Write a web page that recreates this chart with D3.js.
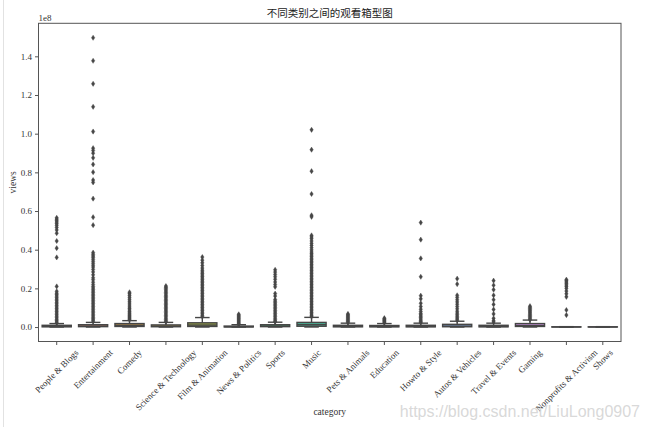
<!DOCTYPE html>
<html><head><meta charset="utf-8">
<script src="https://cdn.jsdelivr.net/npm/d3@7"></script>
<style>body{margin:0;background:#fff}svg{display:block}</style>
</head><body><svg id="c" width="650" height="427"></svg>
<script>
// values in millions of views (axis shown in units of 1e8)
const categories = ["People & Blogs","Entertainment","Comedy","Science & Technology","Film & Animation","News & Politics","Sports","Music","Pets & Animals","Education","Howto & Style","Autos & Vehicles","Travel & Events","Gaming","Nonprofits & Activism","Shows"];
const whiskerLow  = [0.01,0.01,0.02,0.01,0.02,0.01,0.01,0.02,0.01,0.01,0.01,0.01,0.01,0.02,0.01,0.01];
const q1          = [0.1,0.2,0.3,0.15,0.3,0.05,0.2,0.4,0.1,0.1,0.1,0.15,0.1,0.3,0.02,0.02];
const medians     = [0.35,0.5,0.9,0.45,1.0,0.15,0.5,1.2,0.35,0.3,0.3,0.5,0.3,0.8,0.05,0.05];
const q3          = [0.9,1.2,1.8,1.1,2.2,0.5,1.2,2.4,0.9,0.8,0.9,1.4,0.9,1.8,0.1,0.1];
const whiskerHigh = [1.8,2.4,3.3,2.4,4.9,1.2,2.5,5.0,2.0,1.8,2.0,3.0,2.0,3.6,0.2,0.2];
const outliers = [
  [56.5,55.8,55,54.3,53.5,52.6,51.5,50.2,48.5,44.5,40.8,36,21,18.5,17.5,16.8,16,15.2,14.4,13.6,12.8,12,11.2,10.4,9.6,8.8,8,7.2,6.4,5.6,4.8,4,3.3,2.6,2.1],
  [149.6,137.7,125.8,113.9,101.1,92.5,91.3,89.9,87.5,84.1,80.1,76,74.8,66.4,56.8,52.7,38.5,37.6,36.8,36,35,34,33,32,31,29.8,28.5,27,25.5,24.5,23.2,22,21,20.2,19.4,18.6,17.8,17,16.2,15.4,14.6,13.8,13,12.2,11.4,10.6,9.8,9,8.2,7.4,6.6,5.8,5,4.3,3.6,3],
  [18,17.3,16.4,15.4,14.4,13.4,12.4,11.4,10.4,9.6,8.8,8,7.3,6.7,6.1,5.5,4.9,4.3,3.8],
  [21.2,20.6,20,19.3,18.6,17.9,17.2,16.5,15.8,15.1,14.4,13.7,13,12.3,11.6,10.9,10.2,9.5,8.8,8.1,7.4,6.7,6,5.3,4.6,3.9,3.2,2.7],
  [36.2,34.6,33.2,31.8,30.5,29.4,28.5,27.7,26.9,26.1,25.3,24.5,23.7,22.9,22.1,21.3,20.5,19.7,18.9,18.1,17.3,16.5,15.7,14.9,14.1,13.3,12.5,11.7,10.9,10.1,9.3,8.5,7.7,6.9,6.1,5.4],
  [6.6,6.1,5.6,5.1,4.6,4.1,3.6,3.1,2.6,2.1,1.6,1.3],
  [29.6,28.4,27.2,26,24.7,23.3,22,20.8,17.3,16,14.2,13.4,12.6,11.8,11,10.2,9.4,8.6,7.8,7,6.2,5.4,4.6,3.8,3.1,2.7],
  [102,91.7,80.6,68.8,57.8,57,47.4,46.6,45.7,44.5,43.3,42.2,41,39.9,38.8,38,37.2,36.4,35.6,34.8,34,33.2,32.4,31.6,30.8,30,29.2,28.4,27.6,26.8,26,25.2,24.4,23.6,22.8,22,21.2,20.4,19.6,18.8,18,17.2,16.4,15.6,14.8,14,13.2,12.4,11.6,10.8,10,9.2,8.4,7.6,6.8,6,5.4],
  [6.8,6.3,5.8,5.3,4.8,4.3,3.8,3.3,2.8,2.4],
  [4.6,4.2,3.8,3.4,3,2.6,2.2],
  [54,45.2,35.5,26,16.2,14.6,12.3,10.6,9.2,8,7,6.3,5.6,4.9,4.2,3.5,2.9,2.4],
  [25,22.2,16.4,15.3,14.1,13,11.8,10.6,9.4,8.2,7.2,6.4,5.6,4.8,4.1,3.5],
  [24,21.6,19.3,16.4,14.1,11.7,9.1,6.8,4.5,3.2,2.6],
  [10.8,10.2,9.6,9,8.4,7.8,7.2,6.6,6,5.4,4.8,4.2,3.8],
  [24.5,24,23.3,22.6,21.8,21,20,18.6,17.2,15.6,8.8,6.2],
  []
];
const yTickValues = [0,20,40,60,80,100,120,140];
const yTickLabels = ["0.0","0.2","0.4","0.6","0.8","1.0","1.2","1.4"];
const titleText = "不同类别之间的观看箱型图";
const xLabel = "category", yLabel = "views", offsetLabel = "1e8";
const watermark = "https://blog.csdn.net/LiuLong0907";

(function(){
// ---- seaborn husl palette (l=.7, s=.9, h=.01) desaturated .75 ----
const M = [[3.2406,-1.5372,-0.4986],[-0.9689,1.8758,0.0415],[0.0557,-0.2040,1.0570]];
function maxChroma(L,H){const hr=H*Math.PI/180,sH=Math.sin(hr),cH=Math.cos(hr);
  const sub1=Math.pow(L+16,3)/1560896, sub2=sub1>0.008856?sub1:L/903.3; let res=Infinity;
  for(const [m1,m2,m3] of M){const tp=(0.99915*m1+1.05122*m2+1.14460*m3)*sub2;
    const rb=0.86330*m3-0.17266*m2, lb=0.12949*m3-0.38848*m1, bot=(rb*sH+lb*cH)*sub2;
    for(const t of [0,1]){const C=L*(tp-1.05122*t)/(bot+0.17266*sH*t); if(C>0&&C<res)res=C;}}
  return res;}
function fInv(t){return Math.pow(t,3)>0.008856?Math.pow(t,3):(116*t-16)/903.3;}
function fromLin(c){return c<=0.0031308?12.92*c:1.055*Math.pow(c,1/2.4)-0.055;}
function husl(h,s,l){const C=maxChroma(l,h)/100*s, hr=h*Math.PI/180;
  const U=Math.cos(hr)*C,V=Math.sin(hr)*C;
  const vY=fInv((l+16)/116), vU=U/(13*l)+0.19784, vV=V/(13*l)+0.46834;
  const Y=vY, X=-(9*Y*vU)/((vU-4)*vV-vU*vV), Z=(9*Y-15*vV*Y-vV*X)/(3*vV);
  return M.map(r=>Math.max(0,Math.min(1,fromLin(r[0]*X+r[1]*Y+r[2]*Z))));}
const n=categories.length;
const colors=categories.map((c,i)=>{const h=((i/n+0.01)%1)*359; const rgb=husl(h,0.9*99,0.7*99);
  const col=d3.hsl(d3.rgb(rgb[0]*255,rgb[1]*255,rgb[2]*255)); col.s*=0.75; return col.formatHex();});
const lum=d3.min(colors,c=>d3.hsl(c).l)*0.6;
const gray=d3.rgb(lum*255,lum*255,lum*255).formatHex();

// ---- layout ----
const svg=d3.select("#c");
const pl=38.5,pr=621,pt=23.3,pb=341.5;
const x=d3.scaleBand().domain(categories).range([pl,pr]).padding(0);
const y=d3.scaleLinear().domain([-7.48,157.08]).range([pb,pt]);
const bw=x.bandwidth()*0.8;

svg.append("rect").attr("x",3).attr("y",0).attr("width",1).attr("height",427).attr("fill","#e2e2e2");

const g=svg.append("g");
categories.forEach((c,i)=>{
  const cx=x(c)+x.bandwidth()/2;
  const gg=g.append("g");
  gg.append("line").attr("x1",cx).attr("x2",cx).attr("y1",y(q3[i])).attr("y2",y(whiskerHigh[i])).attr("stroke",gray).attr("stroke-width",1.4);
  gg.append("line").attr("x1",cx).attr("x2",cx).attr("y1",y(q1[i])).attr("y2",y(whiskerLow[i])).attr("stroke",gray).attr("stroke-width",1.4);
  [whiskerHigh[i],whiskerLow[i]].forEach(v=>gg.append("line").attr("x1",cx-bw/4).attr("x2",cx+bw/4).attr("y1",y(v)).attr("y2",y(v)).attr("stroke",gray).attr("stroke-width",1.4));
  gg.append("rect").attr("x",cx-bw/2).attr("width",bw).attr("y",y(q3[i])).attr("height",Math.max(0.1,y(q1[i])-y(q3[i])))
    .attr("fill",colors[i]).attr("stroke",gray).attr("stroke-width",1.4);
  gg.append("line").attr("x1",cx-bw/2).attr("x2",cx+bw/2).attr("y1",y(medians[i])).attr("y2",y(medians[i])).attr("stroke",gray).attr("stroke-width",1.4);
  gg.selectAll("path.f").data(outliers[i]).join("path").attr("class","f")
    .attr("d","M0,-2.6L1.7,0L0,2.6L-1.7,0Z").attr("transform",d=>`translate(${cx},${y(d)})`)
    .attr("fill",gray).attr("stroke",gray).attr("stroke-width",0.4);
});

svg.append("rect").attr("x",pl).attr("y",pt).attr("width",pr-pl).attr("height",pb-pt)
  .attr("fill","none").attr("stroke","#555").attr("stroke-width",1);

const tickFont="'Liberation Serif', 'DejaVu Serif', serif";
const ya=svg.append("g").attr("transform",`translate(${pl},0)`)
  .call(d3.axisLeft(y).tickValues(yTickValues).tickFormat((d,i)=>yTickLabels[i]).tickSize(3.5).tickPadding(3));
ya.select(".domain").remove();
ya.selectAll("line").attr("stroke","#555");
ya.selectAll("text").attr("font-family",tickFont).attr("font-size",9).attr("fill","#333");

const xa=svg.append("g").attr("transform",`translate(0,${pb})`)
  .call(d3.axisBottom(x).tickSize(3.5).tickPadding(3));
xa.select(".domain").remove();
xa.selectAll("line").attr("stroke","#555");
xa.selectAll("text").attr("font-family",tickFont).attr("font-size",9).attr("fill","#333")
  .attr("text-anchor","middle").attr("dy",null).attr("dominant-baseline","central")
  .each(function(d){
    const t=d3.select(this); const L=this.getComputedTextLength(); const h=9;
    const off=(L+h)*Math.SQRT1_2/2 + 6.5;
    t.attr("y",null).attr("transform",`translate(0,${off}) rotate(-45)`);
  });

svg.append("text").attr("x",(pl+pr)/2).attr("y",17).attr("text-anchor","middle")
  .attr("font-family","'Noto Sans CJK SC', sans-serif").attr("font-size",10.5).attr("fill","#222").text(titleText);
svg.append("text").attr("x",pl).attr("y",20.5).attr("font-family",tickFont).attr("font-size",9).attr("fill","#333").text(offsetLabel);
svg.append("text").attr("x",(pl+pr)/2).attr("y",415).attr("text-anchor","middle").attr("font-family",tickFont).attr("font-size",9.5).attr("fill","#333").text(xLabel);
svg.append("text").attr("transform",`translate(16,${(pt+pb)/2}) rotate(-90)`).attr("text-anchor","middle").attr("font-family",tickFont).attr("font-size",9.5).attr("fill","#333").text(yLabel);
svg.append("text").attr("x",640).attr("y",417).attr("text-anchor","end").attr("font-family","'Liberation Sans', Arial, sans-serif").attr("font-size",16).attr("fill","#d4d4d4").attr("fill-opacity",0.9).text(watermark);
})();
</script></body></html>
